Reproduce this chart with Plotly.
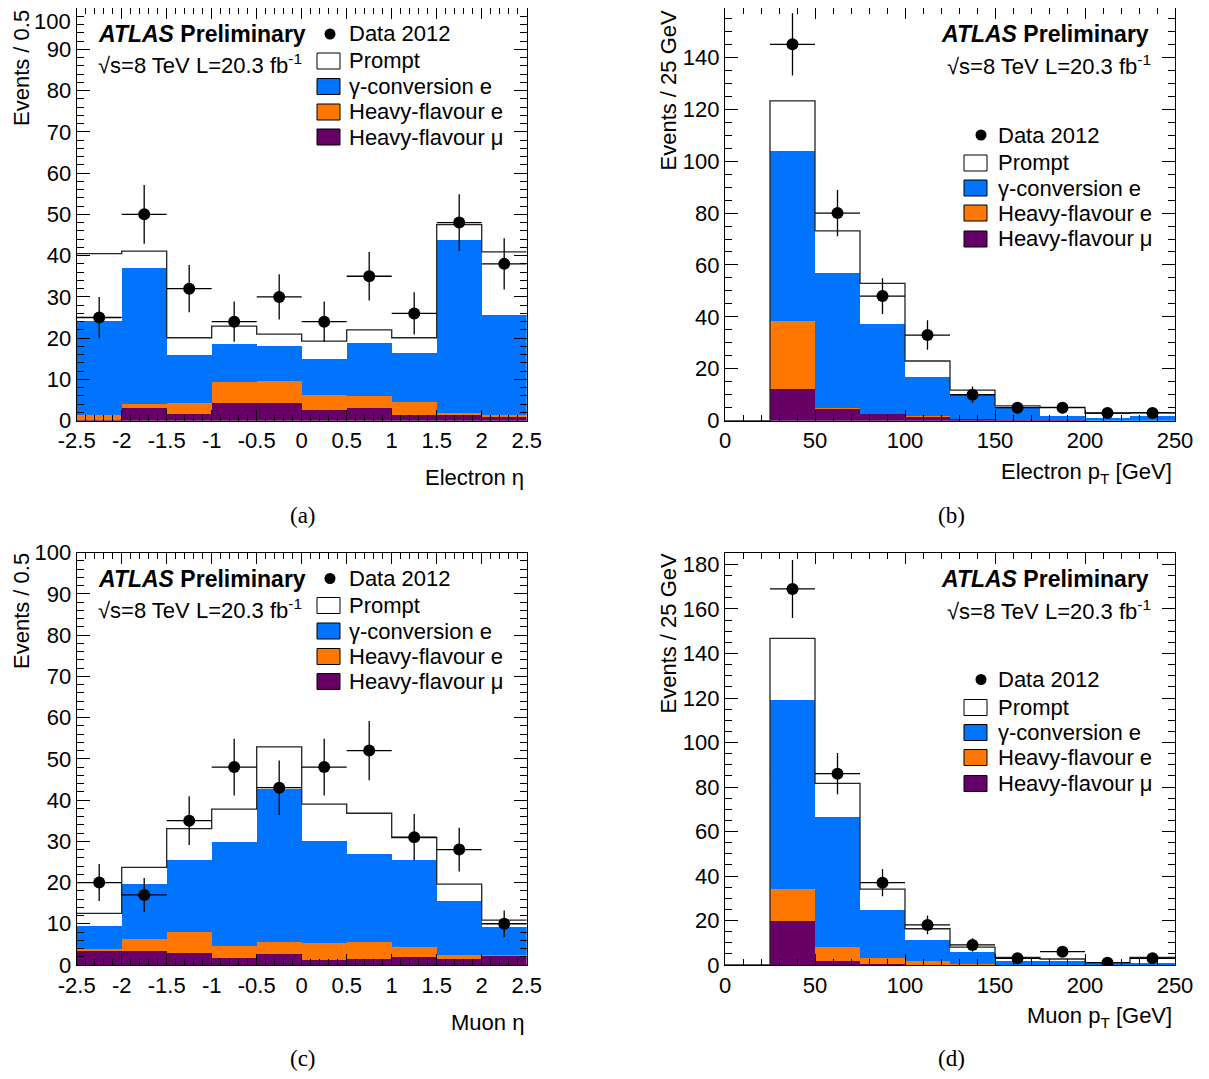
import plotly.graph_objects as go

W, H = 1209, 1079

# ---------------- data ----------------
eta_edges = [-2.5, -2.0, -1.5, -1.0, -0.5, 0.0, 0.5, 1.0, 1.5, 2.0, 2.5]
pt_edges = [0, 25, 50, 75, 100, 125, 150, 175, 200, 225, 250]

# (a) Electron eta
a_hfmu = [0.2, 3.1, 1.7, 4.4, 4.4, 2.7, 3.0, 1.4, 1.4, 1.0]
a_hfe = [1.1, 1.0, 2.7, 5.0, 5.3, 3.5, 3.0, 3.1, 0.4, 0.3]
a_conv = [22.8, 33.0, 11.6, 9.2, 8.5, 8.7, 12.9, 11.8, 41.9, 24.3]
a_prompt = [16.4, 4.0, 4.1, 4.3, 2.8, 4.4, 3.1, 3.8, 3.8, 15.3]
a_data = [25, 50, 32, 24, 30, 24, 35, 26, 48, 38]
a_err = [5.0, 7.1, 5.7, 4.9, 5.5, 4.9, 5.9, 5.1, 6.9, 6.2]

# (b) Electron pT
b_hfmu = [0.0, 12.3, 4.6, 2.6, 1.8, 0.5, 0.1, 0.1, 0.0, 0.0]
b_hfe = [0.0, 26.1, 0.4, 0.1, 0.1, 0.0, 0.0, 0.0, 0.0, 0.0]
b_conv = [0.0, 65.4, 51.8, 34.4, 15.1, 9.4, 4.7, 1.7, 0.9, 1.8]
b_prompt = [0.0, 19.4, 16.3, 15.8, 6.0, 1.9, 0.9, 3.3, 1.9, 1.3]
b_data = [145, 80, 48, 33, 10, 5, 5, 3, 3]          # bins 25..250
b_err = [12.0, 8.9, 6.9, 5.7, 3.2, 2.2, 2.2, 1.7, 1.7]

# (c) Muon eta
c_hfmu = [3.5, 3.5, 3.1, 1.8, 2.7, 1.2, 1.6, 1.9, 1.5, 2.3]
c_hfe = [0.5, 2.9, 4.9, 3.0, 3.0, 4.3, 4.1, 2.5, 0.9, 0.1]
c_conv = [5.5, 13.4, 17.5, 25.1, 37.1, 24.6, 21.2, 21.1, 13.1, 6.9]
c_prompt = [3.0, 3.9, 7.6, 7.9, 10.1, 8.9, 9.9, 5.4, 4.1, 1.6]
c_data = [20, 17, 35, 48, 43, 48, 52, 31, 28, 10]
c_err = [4.5, 4.1, 5.9, 6.9, 6.6, 6.9, 7.2, 5.6, 5.3, 3.2]

# (d) Muon pT
d_hfmu = [0.0, 19.8, 1.9, 0.7, 0.3, 0.1, 0.0, 0.0, 0.0, 0.0]
d_hfe = [0.0, 14.6, 6.3, 2.7, 1.8, 0.4, 0.1, 0.0, 0.0, 0.0]
d_conv = [0.0, 84.9, 58.4, 21.6, 9.1, 5.5, 1.8, 1.8, 0.7, 1.0]
d_prompt = [0.0, 27.5, 15.0, 9.1, 5.1, 2.0, 1.5, 0.9, 0.3, 2.4]
d_data = [169, 86, 37, 18, 9, 3, 6, 1, 3]           # bins 25..250
d_err = [13.0, 9.3, 6.1, 4.2, 3.0, 1.7, 2.4, 1.0, 1.7]

eta_ticks = [-2.5, -2.0, -1.5, -1.0, -0.5, 0.0, 0.5, 1.0, 1.5, 2.0, 2.5]
eta_ticktext = ["-2.5", "-2", "-1.5", "-1", "-0.5", "0", "0.5", "1", "1.5", "2", "2.5"]
eta_yticks = [0, 10, 20, 30, 40, 50, 60, 70, 80, 90, 100]

COL_PROMPT = "#ffffff"
COL_CONV = "#0073ff"
COL_HFE = "#ff7700"
COL_HFMU = "#660066"
FONT = "Liberation Sans, Arial, sans-serif"
FS = 22

OFF = 8  # page body margin in the browser


def px(x):
    return min(1.0, max(0.0, (x - OFF) / W))


def py(y):
    return min(1.0, max(0.0, 1 - (y - OFF) / H))


panels = [
    dict(edges=eta_edges, comps=[a_hfmu, a_hfe, a_conv, a_prompt], data=a_data, err=a_err,
         first=0, xa="x", ya="y", xdom=[76.7, 526.7], ydom=[8.0, 420.7], yrange=[0, 100]),
    dict(edges=pt_edges, comps=[b_hfmu, b_hfe, b_conv, b_prompt], data=b_data, err=b_err,
         first=1, xa="x2", ya="y2", xdom=[725, 1175], ydom=[8.0, 420.7], yrange=[0, 159.0]),
    dict(edges=eta_edges, comps=[c_hfmu, c_hfe, c_conv, c_prompt], data=c_data, err=c_err,
         first=0, xa="x3", ya="y3", xdom=[76.7, 526.7], ydom=[552.7, 965], yrange=[0, 100]),
    dict(edges=pt_edges, comps=[d_hfmu, d_hfe, d_conv, d_prompt], data=d_data, err=d_err,
         first=1, xa="x4", ya="y4", xdom=[725, 1175], ydom=[552.7, 965], yrange=[0, 185.3]),
]

fig = go.Figure()
colors = [COL_HFMU, COL_HFE, COL_CONV, COL_PROMPT]

for p in panels:
    edges = p["edges"]
    centers = [(edges[i] + edges[i + 1]) / 2 for i in range(len(edges) - 1)]
    widths = [edges[i + 1] - edges[i] for i in range(len(edges) - 1)]
    for comp, col in zip(p["comps"], colors):
        fig.add_trace(go.Bar(x=centers, y=comp, width=widths, marker=dict(color=col, line=dict(width=0)),
                             xaxis=p["xa"], yaxis=p["ya"], showlegend=False, hoverinfo="skip"))
    # total outline
    totals = [sum(v) for v in zip(*p["comps"])]
    fig.add_trace(go.Scatter(x=edges, y=totals + [totals[-1]], mode="lines",
                             line=dict(shape="hv", color="#222222", width=1.3),
                             xaxis=p["xa"], yaxis=p["ya"], showlegend=False, hoverinfo="skip"))
    # data points
    f = p["first"]
    dx = centers[f:]
    hw = [w / 2 for w in widths[f:]]
    fig.add_trace(go.Scatter(x=dx, y=p["data"], mode="markers",
                             marker=dict(color="black", size=12),
                             error_y=dict(type="data", array=p["err"], color="black", thickness=1.3, width=0),
                             error_x=dict(type="data", array=hw, color="black", thickness=1.3, width=0),
                             xaxis=p["xa"], yaxis=p["ya"], showlegend=False, hoverinfo="skip"))

axis_common = dict(showline=True, linecolor="black", linewidth=1.2, mirror="ticks", ticks="inside",
                   showgrid=False, zeroline=False, tickcolor="black", automargin=False,
                   ticklabeloverflow="allow",
                   tickfont=dict(family=FONT, size=FS, color="black"))

layout = dict(width=W, height=H, margin=dict(l=0, r=0, t=0, b=0, pad=0), paper_bgcolor="white",
              plot_bgcolor="white", barmode="stack", bargap=0, showlegend=False)

for i, p in enumerate(panels):
    sx = "" if i == 0 else str(i + 1)
    xd = [px(p["xdom"][0]), px(p["xdom"][1])]
    yd = [py(p["ydom"][1]), py(p["ydom"][0])]
    xax = dict(axis_common, domain=xd, anchor=p["ya"], ticklen=11, tickwidth=1.2,
               minor=dict(ticks="inside", ticklen=6, tickcolor="black", tickwidth=1))
    if p["edges"] is eta_edges:
        xax.update(range=[-2.5, 2.5], tickvals=eta_ticks, ticktext=eta_ticktext)
        xax["minor"]["dtick"] = 0.1
        xax["minor"]["tick0"] = -2.5
        yax_d = 10
        ymin = 2
    else:
        xax.update(range=[0, 250], tick0=0, dtick=50)
        xax["minor"]["dtick"] = 10
        yax_d = 20
        ymin = 5
    yax = dict(axis_common, domain=yd, anchor=p["xa"], range=p["yrange"], tick0=0, dtick=yax_d,
               ticklen=13, tickwidth=1.2,
               minor=dict(ticks="inside", ticklen=7, dtick=ymin, tickcolor="black", tickwidth=1))
    if i == 0:
        # top label of panel (a) is drawn as an annotation so it stays inside the page
        yax.update(tickmode="array", tickvals=eta_yticks,
                   ticktext=[str(v) for v in eta_yticks[:-1]] + [""])
    layout["xaxis" + sx] = xax
    layout["yaxis" + sx] = yax

fig.update_layout(**layout)

ann = []
shapes = []


def text(x, y, s, xanchor="left", yanchor="middle", size=FS, family=FONT, angle=0):
    ann.append(dict(x=px(x), y=py(y), xref="paper", yref="paper", text=s, showarrow=False,
                    xanchor=xanchor, yanchor=yanchor, textangle=angle,
                    font=dict(family=family, size=size, color="black"), borderpad=0))


def legend(dotx, boxx, textx, rows):
    # rows: centers for data, prompt, conv, hfe, hfmu
    r = 5.5
    shapes.append(dict(type="circle", xref="paper", yref="paper", x0=px(dotx - r), x1=px(dotx + r),
                       y0=py(rows[0] + r), y1=py(rows[0] - r), fillcolor="black", line=dict(width=0)))
    text(textx, rows[0], "Data 2012")
    labels = ["Prompt", "γ-conversion e", "Heavy-flavour e", "Heavy-flavour μ"]
    cols = [COL_PROMPT, COL_CONV, COL_HFE, COL_HFMU]
    for yc, lab, col in zip(rows[1:], labels, cols):
        shapes.append(dict(type="rect", xref="paper", yref="paper", x0=px(boxx), x1=px(boxx + 23),
                           y0=py(yc + 8), y1=py(yc - 8), fillcolor=col, line=dict(color="black", width=1)))
        text(textx, yc, lab)


ATLAS = "<b><i>ATLAS</i> Preliminary</b>"
LUMI = "√s=8 TeV L=20.3 fb<sup>-1</sup>"

for dy in (0, 544.5):
    # left panels
    text(97, 34 + dy, ATLAS, size=23)
    text(97, 64 + dy, LUMI)
    legend(330, 317, 348, [34 + dy, 61 + dy, 86.5 + dy, 112 + dy, 137 + dy])
    # right panels
    text(1150, 34 + dy, ATLAS, xanchor="right", size=23)
    text(1152, 65 + dy, LUMI, xanchor="right")
    legend(981, 964, 997, [135 + dy, 163 + dy, 188 + dy, 213 + dy, 239 + dy])

# top tick label of panel (a)
text(72, 21, "100", xanchor="right")

# axis titles
text(525, 478, "Electron η", xanchor="right")
text(1173, 473, "Electron p<sub>T</sub> [GeV]", xanchor="right")
text(525, 1022, "Muon η", xanchor="right")
text(1173, 1017, "Muon p<sub>T</sub> [GeV]", xanchor="right")

text(21, 9, "Events / 0.5", xanchor="center", yanchor="top", angle=-90)
text(668, 9, "Events / 25 GeV", xanchor="center", yanchor="top", angle=-90)
text(21, 552, "Events / 0.5", xanchor="center", yanchor="top", angle=-90)
text(668, 552, "Events / 25 GeV", xanchor="center", yanchor="top", angle=-90)

# captions
SERIF = "Liberation Serif, Times New Roman, serif"
text(303, 515, "(a)", xanchor="center", family=SERIF, size=23)
text(951, 515, "(b)", xanchor="center", family=SERIF, size=23)
text(303, 1058, "(c)", xanchor="center", family=SERIF, size=23)
text(951, 1058, "(d)", xanchor="center", family=SERIF, size=23)

fig.update_layout(annotations=ann, shapes=shapes)
fig.write_html("out.html")
